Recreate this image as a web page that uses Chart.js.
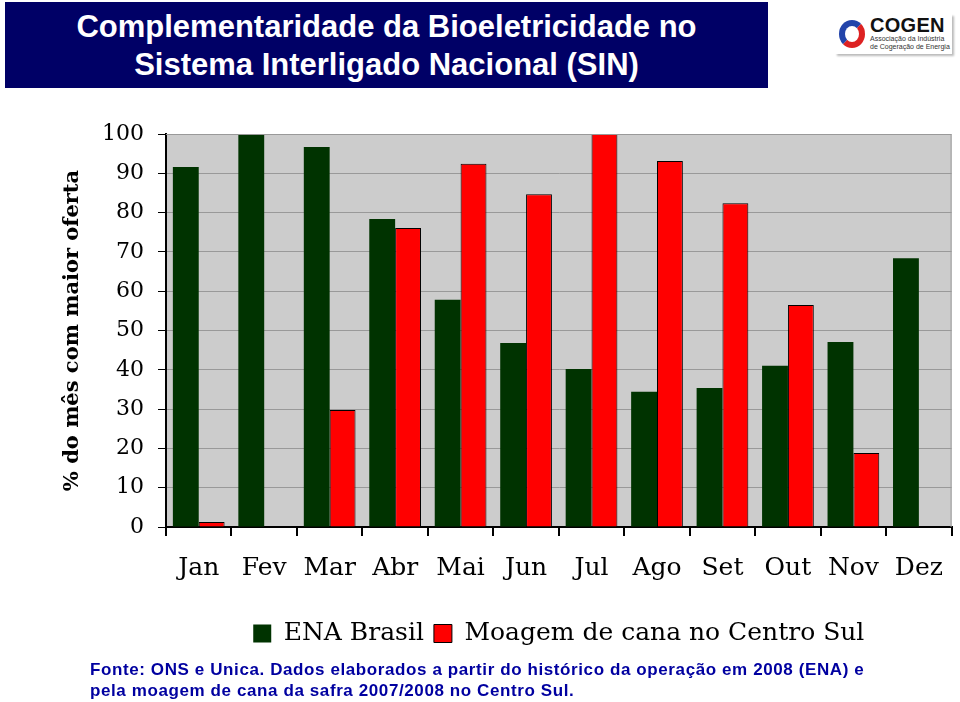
<!DOCTYPE html>
<html>
<head>
<meta charset="utf-8">
<script src="https://cdn.jsdelivr.net/npm/chart.js@4"></script>
<style>
  body { margin: 0; background: #fff; width: 960px; height: 702px; overflow: hidden; position: relative; }
  #titulo { position: absolute; left: 5px; top: 2px; width: 763px; height: 86px; background: #000066;
    color: #fff; font-family: "Liberation Sans Narrow", "Liberation Sans", sans-serif; font-weight: bold;
    font-size: 31px; line-height: 38px; text-align: center; padding-top: 6px; box-sizing: border-box; }
  #logo { position: absolute; left: 835px; top: 14px; width: 117px; height: 40px; background: #fff;
    box-shadow: 2px 2px 2px #bbb; font-family: "Liberation Sans", sans-serif; }
  #logo .aro { position: absolute; left: 4px; top: 6px; width: 26px; height: 28px; border-radius: 50%;
    border: 6px solid #2244aa; border-right-color: #dd2222; border-bottom-color: #dd2222; box-sizing: border-box; }
  #logo .nome { position: absolute; left: 35px; top: 0px; font-weight: bold; font-size: 20px; color: #111; letter-spacing: 0.3px; }
  #logo .sub { position: absolute; left: 35px; top: 21px; font-size: 7px; line-height: 8px; color: #333; }
  #grafico { position: absolute; left: 0; top: 100px; }
  #fonte { position: absolute; left: 90px; top: 659px; font-family: "Liberation Sans Narrow", "Liberation Sans", sans-serif;
    font-weight: bold; font-size: 17px; line-height: 21px; color: #0000a0; letter-spacing: 0.6px; }
</style>
</head>
<body>
<div id="titulo">Complementaridade da Bioeletricidade no<br>Sistema Interligado Nacional (SIN)</div>
<div id="logo"><div class="aro"></div><div class="nome">COGEN</div><div class="sub">Associação da Indústria<br>de Cogeração de Energia</div></div>
<canvas id="grafico" width="960" height="560"></canvas>
<div id="fonte">Fonte: ONS e Unica. Dados elaborados a partir do histórico da operação em 2008 (ENA) e<br>pela moagem de cana da safra 2007/2008 no Centro Sul.</div>
<script>
const meses = ['Jan', 'Fev', 'Mar', 'Abr', 'Mai', 'Jun', 'Jul', 'Ago', 'Set', 'Out', 'Nov', 'Dez'];
let enaBrasil = [91.6, 100, 96.7, 78.4, 57.8, 46.8, 40.2, 34.4, 35.4, 41.0, 47.1, 68.4];
let moagem = [1.3, null, 29.8, 76.1, 92.4, 84.7, 100, 93.1, 82.4, 56.5, 18.8, null];

// fundo cinza da area do grafico
const fundoPlot = {
    id: 'fundoPlot',
    beforeDraw(chart) {
        const a = chart.chartArea;
        const ctx = chart.ctx;
        ctx.save();
        ctx.fillStyle = '#cccccc';
        ctx.fillRect(a.left, a.top, a.right - a.left, a.bottom - a.top);
        ctx.restore();
    },
    afterDatasetsDraw(chart) {
        const a = chart.chartArea;
        const ctx = chart.ctx;
        ctx.save();
        ctx.strokeStyle = '#999999';
        ctx.lineWidth = 1;
        ctx.beginPath();
        ctx.moveTo(a.left, a.top + 0.5);
        ctx.lineTo(a.right - 0.5, a.top + 0.5);
        ctx.lineTo(a.right - 0.5, a.bottom);
        ctx.stroke();
        ctx.restore();
    }
};

const serif = 'DejaVu Serif';

const miGrafico = new Chart(document.getElementById('grafico'), {
    type: 'bar',
    data: {
        labels: meses,
        datasets: [{
            label: 'ENA Brasil',
            data: enaBrasil,
            backgroundColor: '#003300',
            borderColor: '#002200',
            borderWidth: 0
        }, {
            label: 'Moagem de cana no Centro Sul',
            data: moagem,
            backgroundColor: '#ff0000',
            borderColor: '#000000',
            borderWidth: 1
        }]
    },
    options: {
        responsive: false,
        animation: false,
        layout: { padding: { top: 34, right: 3, left: 0, bottom: 4 } },
        datasets: { bar: { categoryPercentage: 0.79, barPercentage: 1 } },
        scales: {
            x: {
                afterFit: s => { s.height = 84; },
                grid: { drawOnChartArea: false, tickColor: '#000', tickLength: 9, lineWidth: 2 },
                border: { color: '#000', width: 2 },
                ticks: { color: '#000', padding: 17, font: { family: serif, size: 25 } }
            },
            y: {
                min: 0,
                max: 100,
                afterFit: s => { s.width = 166; },
                ticks: { stepSize: 10, color: '#000', padding: 14, font: { family: serif, size: 22 } },
                grid: { color: '#999999', tickColor: '#000', tickLength: 8 },
                border: { color: '#000', width: 2 },
                title: {
                    display: true,
                    text: '% do mês com maior oferta',
                    color: '#000',
                    font: { family: serif, size: 21, weight: 'bold' },
                    padding: { top: 60, bottom: 0 }
                }
            }
        },
        plugins: {
            legend: {
                position: 'bottom',
                fullSize: false,
                labels: {
                    color: '#000',
                    font: { family: serif, size: 25 },
                    boxWidth: 18,
                    boxHeight: 18,
                    padding: 10
                }
            },
            tooltip: { enabled: false }
        }
    },
    plugins: [fundoPlot]
});
</script>
</body>
</html>
